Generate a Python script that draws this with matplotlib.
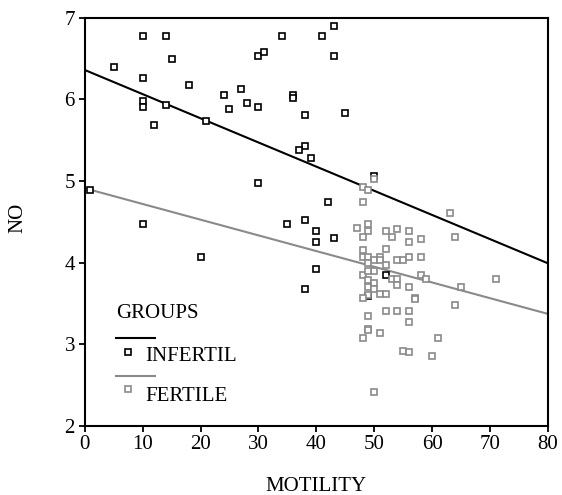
#! /usr/bin/env python3

import matplotlib
matplotlib.use('Agg')
import matplotlib.pyplot as plt
import numpy as np

# data (MOTILITY vs NO)
infertil_x = [10, 14, 34, 41, 43, 43, 15, 5, 10, 30, 31, 18, 24, 27, 25, 28, 30,
              36, 36, 38, 45, 10, 10, 14, 12, 21, 38, 37, 39, 30, 1, 50, 42,
              10, 20, 35, 38, 40, 40, 43, 40, 38, 52, 49]
infertil_y = [6.77, 6.77, 6.77, 6.77, 6.90, 6.53, 6.50, 6.40, 6.26, 6.53, 6.58,
              6.18, 6.05, 6.13, 5.88, 5.96, 5.91, 6.05, 6.02, 5.81, 5.83, 5.98,
              5.91, 5.93, 5.68, 5.73, 5.43, 5.38, 5.28, 4.97, 4.89, 5.06, 4.74,
              4.47, 4.07, 4.47, 4.52, 4.39, 4.25, 4.30, 3.92, 3.67, 3.85, 3.59]

fertile_x = [50, 48, 49, 48, 63, 47, 49, 49, 48, 52, 53, 54, 56, 56, 58, 64, 52,
             48, 48, 49, 51, 50, 51, 49, 54, 55, 56, 58, 52, 50, 48, 49, 49, 50,
             53, 54, 54, 56, 58, 59, 71, 65, 49, 50, 51, 52, 49, 48, 57, 57, 64,
             52, 54, 56, 49, 56, 49, 49, 48, 51, 61, 55, 56, 60, 50]
fertile_y = [5.02, 4.92, 4.89, 4.74, 4.61, 4.42, 4.47, 4.39, 4.31, 4.39, 4.31,
             4.41, 4.39, 4.25, 4.29, 4.31, 4.17, 4.15, 4.07, 4.07, 4.07, 4.03,
             4.03, 4.00, 4.03, 4.03, 4.07, 4.07, 3.97, 3.89, 3.85, 3.89, 3.79,
             3.75, 3.80, 3.80, 3.72, 3.70, 3.85, 3.80, 3.80, 3.70, 3.70, 3.68,
             3.61, 3.61, 3.60, 3.57, 3.57, 3.55, 3.48, 3.40, 3.40, 3.40, 3.35,
             3.27, 3.19, 3.17, 3.08, 3.13, 3.08, 2.92, 2.90, 2.85, 2.41]

# fitted lines, endpoints
fit_x = [0, 80]
infertil_fit = [6.36, 3.99]
fertile_fit = [4.91, 3.37]

x_ticks = [0, 10, 20, 30, 40, 50, 60, 70, 80]
y_ticks = [2, 3, 4, 5, 6, 7]

BLACK = '#000000'
GRAY = '#8a8a8a'


def mkplot():
    plt.rcParams['font.family'] = ['Liberation Serif', 'DejaVu Serif']
    fig = plt.figure(figsize=(5.62, 4.95), dpi=100)
    ax = fig.add_axes([0.1507, 0.140, 0.8244, 0.8242])

    ax.plot(fit_x, infertil_fit, color=BLACK, lw=1.5, zorder=2)
    ax.plot(fit_x, fertile_fit, color=GRAY, lw=1.5, zorder=2)

    ax.plot(infertil_x, infertil_y, ls='none', marker='s', ms=4.6, mew=1.2,
            mfc='white', mec=BLACK, zorder=3, clip_on=False)
    ax.plot(fertile_x, fertile_y, ls='none', marker='s', ms=4.6, mew=1.2,
            mfc='white', mec=GRAY, zorder=4, clip_on=False)

    ax.set_xlim(0, 80)
    ax.set_ylim(2, 7)
    ax.set_xticks(x_ticks)
    ax.set_yticks(y_ticks)
    ax.tick_params(direction='out', length=4, width=1.3, labelsize=15, pad=3)
    for s in ax.spines.values():
        s.set_linewidth(1.5)

    ax.set_xlabel('MOTILITY', fontsize=15)
    ax.xaxis.set_label_coords(0.5, -0.148)
    ax.xaxis.label.set_va('center')
    ax.set_ylabel('NO', fontsize=15)
    ax.yaxis.set_label_coords(-0.144, 0.51)
    ax.yaxis.label.set_va('center')

    # SPSS style legend box
    tr = ax.transAxes
    ax.text(0.0676, 0.274, 'GROUPS', transform=tr, fontsize=15, va='center')
    ax.plot([0.0676, 0.152], [0.216, 0.216], color=BLACK, lw=1.5, transform=tr)
    ax.plot([0.094], [0.180], ls='none', marker='s', ms=4.6, mew=1.2,
            mfc='white', mec=BLACK, transform=tr)
    ax.text(0.130, 0.169, 'INFERTIL', transform=tr, fontsize=15, va='center')
    ax.plot([0.0676, 0.152], [0.122, 0.122], color=GRAY, lw=1.5, transform=tr)
    ax.plot([0.094], [0.089], ls='none', marker='s', ms=4.6, mew=1.2,
            mfc='white', mec=GRAY, transform=tr)
    ax.text(0.130, 0.071, 'FERTILE', transform=tr, fontsize=15, va='center')

    fig.savefig('out.png', dpi=100)


if __name__ == "__main__":
    mkplot()
